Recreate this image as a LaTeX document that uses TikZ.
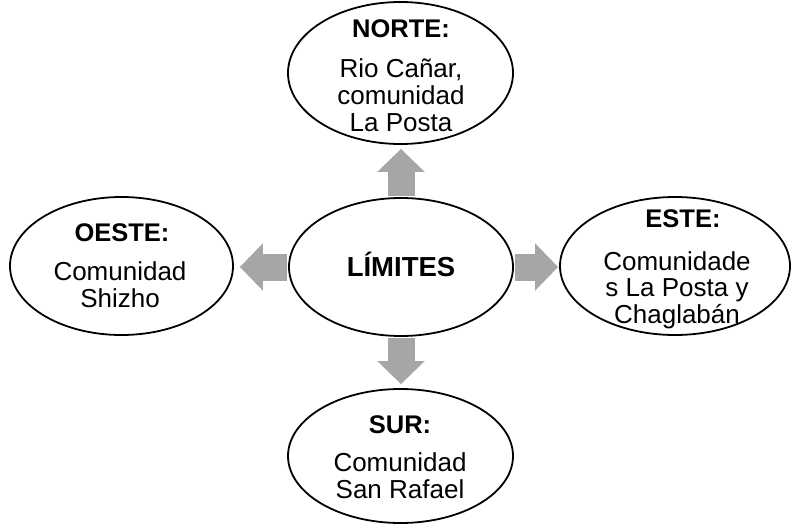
\documentclass[tikz,border=0pt]{standalone}
\usepackage{fontspec}
\setmainfont{Liberation Sans}
\usetikzlibrary{arrows.meta,shapes.geometric}
\tikzset{
  zona/.style={draw, ellipse, line width=1.8pt, fill=white, inner sep=0pt},
  titulo/.style={font=\fontsize{25.5}{30}\selectfont\bfseries, anchor=base, inner sep=0pt},
  cuerpo/.style={font=\fontsize{26}{26.5}\selectfont, align=center, anchor=base, inner sep=0pt},
  flecha/.style={draw=gray!70, line width=27pt, -{Triangle[length=23pt,width=46pt]}}
}
\begin{document}
\begin{tikzpicture}[x=1pt,y=-1pt]
      \useasboundingbox (0,0) rectangle (791,524);
      \node[zona, minimum width=224pt, minimum height=138pt,
        font=\fontsize{27.5}{32}\selectfont\bfseries,
        text height=19.7pt, text depth=0pt] (limites) at (401,267) {LÍMITES};
      \node[zona, minimum width=225pt, minimum height=142pt] (norte) at (400.5,73) {};
      \node[zona, minimum width=230pt, minimum height=138pt] (este) at (675,266) {};
      \node[zona, minimum width=223pt, minimum height=138pt] (oeste) at (121.5,266) {};
      \node[zona, minimum width=225pt, minimum height=134pt] (sur) at (400.5,456) {};
      \node[titulo] (norteT) at (401,38) {NORTE:};
      \node[cuerpo] (norteC) at (401,131) {Rio Cañar,\\comunidad\\La Posta};
      \node[titulo] (esteT) at (683,227) {ESTE:};
      \node[cuerpo] (esteC) at (677,323) {Comunidade\\s La Posta y\\Chaglabán};
      \node[titulo] (oesteT) at (122,241) {OESTE:};
      \node[cuerpo] (oesteC) at (120,307) {Comunidad\\Shizho};
      \node[titulo] (surT) at (400,433) {SUR:};
      \node[cuerpo] (surC) at (400,498) {Comunidad\\San Rafael};
      \begin{scope}[flecha]
        \draw[shorten <=1pt, shorten >=4pt] (limites.north) to (limites.north |- norte.south);
        \draw[shorten <=1pt, shorten >=4pt] (limites.south) to (limites.south |- sur.north);
        \draw[shorten <=1pt, shorten >=1pt] (limites.east) to (limites.east -| este.west);
        \draw[shorten <=1pt, shorten >=6pt] (limites.west) to (limites.west -| oeste.east);
      \end{scope}
    \end{tikzpicture}
\end{document}
